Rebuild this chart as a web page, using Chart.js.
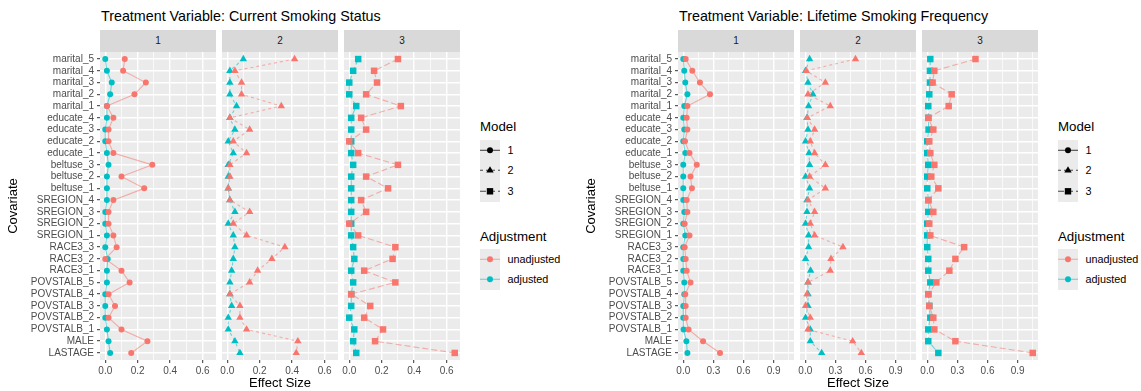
<!DOCTYPE html>
<html>
<head>
<meta charset="utf-8">
<script src="https://cdn.jsdelivr.net/npm/chart.js@4.4.0/dist/chart.umd.min.js"></script>
<style>
  body { margin: 0; width: 1141px; height: 391px; overflow: hidden; background: #fff; position: relative;
         font-family: "Liberation Sans", Arial, sans-serif; }
  canvas { position: absolute; }
  .abs { position: absolute; white-space: nowrap; line-height: 1; }
  .titulo { font-size: 14.3px; color: #000; }
  .faixa { background: #d9d9d9; color: #1a1a1a; font-size: 10px; display: flex; align-items: center; justify-content: center; }
  .leg-titulo { font-size: 13.3px; color: #000; }
  .leg-rotulo { font-size: 10.8px; color: #000; display: flex; align-items: center; }
  .chave { background: #ebebeb; }
</style>
</head>
<body>
<script>
// categorias (de cima para baixo)
const covariaveis = ['marital_5','marital_4','marital_3','marital_2','marital_1',
  'educate_4','educate_3','educate_2','educate_1','beltuse_3','beltuse_2','beltuse_1',
  'SREGION_4','SREGION_3','SREGION_2','SREGION_1','RACE3_3','RACE3_2','RACE3_1',
  'POVSTALB_5','POVSTALB_4','POVSTALB_3','POVSTALB_2','POVSTALB_1','MALE','LASTAGE'];
const modelos = ['1', '2', '3'];
const ajustes = ['unadjusted', 'adjusted'];
const ticksAtual = [0, 0.2, 0.4, 0.6];
const ticksVida = [0, 0.3, 0.6, 0.9];

// Current Smoking Status
const atualNaoAjust1 = [0.12,0.11,0.25,0.18,0.01,0.05,0.02,0.02,0.05,0.29,0.10,0.24,0.05,0.02,0.02,0.05,0.07,0.00,0.10,0.15,0.02,0.06,0.02,0.10,0.26,0.16];
const atualAjust1    = [0.00,0.01,0.04,0.03,0.01,0.01,0.00,0.00,0.01,0.02,0.01,0.01,0.01,0.00,0.00,0.01,0.00,0.015,0.01,0.01,0.00,0.00,0.00,0.01,0.02,0.03];
const atualNaoAjust2 = [0.415,0.047,0.088,0.088,0.333,0.016,0.138,0.037,0.119,0.016,0.016,0.006,0.016,0.138,0.037,0.119,0.355,0.275,0.187,0.138,0.016,0.078,0.078,0.119,0.435,0.425];
const atualAjust2    = [0.099,0.016,0.016,0.016,0.057,0.016,0.047,0.006,0.037,0.006,0.006,0.006,0.016,0.047,0.006,0.037,0.047,0.037,0.027,0.016,0.016,0.027,0.006,0.006,0.047,0.078];
const atualNaoAjust3 = [0.30,0.153,0.171,0.104,0.318,0.073,0.104,0.0,0.055,0.30,0.104,0.239,0.073,0.104,0.0,0.055,0.284,0.267,0.092,0.284,0.012,0.129,0.092,0.208,0.159,0.65];
const atualAjust3    = [0.055,0.024,0.0,0.0,0.043,0.012,0.012,0.012,0.012,0.024,0.012,0.012,0.012,0.012,0.012,0.012,0.024,0.031,0.012,0.024,0.012,0.012,0.0,0.031,0.024,0.043];

// Lifetime Smoking Frequency
const vidaNaoAjust1 = [0.024,0.09,0.166,0.266,0.041,0.034,0.041,0.017,0.062,0.134,0.072,0.086,0.034,0.041,0.014,0.062,0.014,0.024,0.034,0.072,0.02,0.024,0.024,0.052,0.197,0.366];
const vidaAjust1    = [0.0,0.01,0.02,0.041,0.01,0.0,0.01,0.0,0.02,0.0,0.0,0.0,0.0,0.01,0.0,0.02,0.0,0.0,0.0,0.01,0.01,0.0,0.0,0.003,0.031,0.041];
const vidaNaoAjust2 = [0.50,0.01,0.20,0.027,0.249,0.02,0.093,0.05,0.093,0.20,0.043,0.20,0.027,0.093,0.05,0.093,0.375,0.256,0.249,0.027,0.017,0.003,0.05,0.027,0.472,0.558];
const vidaAjust2    = [0.043,0.003,0.027,0.076,0.033,0.017,0.027,0.003,0.037,0.043,0.003,0.043,0.017,0.017,0.003,0.033,0.033,0.003,0.053,0.027,0.027,0.027,0.003,0.05,0.05,0.163];
const vidaNaoAjust3 = [0.48,0.07,0.053,0.243,0.213,0.01,0.06,0.02,0.03,0.07,0.04,0.11,0.01,0.06,0.02,0.03,0.367,0.28,0.22,0.09,0.01,0.02,0.06,0.07,0.28,1.05];
const vidaAjust3    = [0.03,0.027,0.027,0.02,0.01,0.01,0.013,0.0,0.0,0.01,0.0,0.0,0.01,0.01,0.0,0.0,0.0,0.01,0.01,0.03,0.01,0.02,0.03,0.01,0.01,0.11];

const cores = ['#F8766D', '#00BFC4'];
const coresLinha = ['rgba(248,118,109,0.55)', 'rgba(0,191,196,0.55)'];
const estilos = [
  {ponto: 'circle', raio: 3, traco: []},
  {ponto: 'triangle', raio: 4.3, traco: [3, 3]},
  {ponto: 'rect', raio: 4.6, traco: [6, 3]},
];

Chart.defaults.font.family = '"Liberation Sans", Arial, sans-serif';

// fundo cinza do painel
const fundoPainel = {
  id: 'fundoPainel',
  beforeDraw(chart) {
    const {ctx, chartArea: a} = chart;
    ctx.save();
    ctx.fillStyle = '#ebebeb';
    ctx.fillRect(a.left, a.top, a.width, a.height);
    ctx.restore();
  }
};

const graficos = [
  {titulo: 'Treatment Variable: Current Smoking Status', esquerda: 100, min: -0.0325, max: 0.6825, passo: 0.1,
   ticks: ticksAtual, series: [[atualNaoAjust1, atualAjust1], [atualNaoAjust2, atualAjust2], [atualNaoAjust3, atualAjust3]]},
  {titulo: 'Treatment Variable: Lifetime Smoking Frequency', esquerda: 678, min: -0.0525, max: 1.1025, passo: 0.15,
   ticks: ticksVida, series: [[vidaNaoAjust1, vidaAjust1], [vidaNaoAjust2, vidaAjust2], [vidaNaoAjust3, vidaAjust3]]},
];

function adicionarDiv(classe, texto, estilo) {
  const d = document.createElement('div');
  d.className = 'abs ' + classe;
  d.textContent = texto;
  Object.assign(d.style, estilo);
  document.body.appendChild(d);
  return d;
}

function criarPainel(g, k) {
  // margem à esquerda para o rótulo "0.0" não ser cortado
  const larguraEixo = k === 0 ? 100 : 6;
  const x0 = g.esquerda + k * 122;
  const ehMaior = v => g.ticks.includes(Math.round(v * 100) / 100);

  adicionarDiv('faixa', modelos[k], {left: x0 + 'px', top: '30px', width: '116px', height: '22px'});

  const canvas = document.createElement('canvas');
  canvas.width = 116 + larguraEixo;
  canvas.height = 339;
  canvas.style.left = (x0 - larguraEixo) + 'px';
  canvas.style.top = '52px';
  document.body.appendChild(canvas);

  const e = estilos[k];
  const datasets = g.series[k].map((valores, j) => ({
    label: ajustes[j],
    data: valores.map((v, i) => ({x: v, y: i})),
    showLine: true,
    borderColor: coresLinha[j],
    borderWidth: 1.1,
    borderDash: e.traco,
    pointStyle: e.ponto,
    pointRadius: e.raio,
    pointBackgroundColor: cores[j],
    pointBorderWidth: 0,
  }));

  return new Chart(canvas, {
    type: 'scatter',
    data: {datasets: datasets},
    plugins: [fundoPainel],
    options: {
      responsive: false,
      animation: false,
      events: [],
      layout: {padding: 0, autoPadding: false},
      plugins: {legend: {display: false}, tooltip: {enabled: false}},
      scales: {
        x: {
          type: 'linear', min: g.min, max: g.max,
          border: {display: false},
          grid: {
            color: '#fff',
            lineWidth: c => (c.tick && ehMaior(c.tick.value)) ? 1.4 : 0.7,
            tickLength: 3, tickWidth: 1,
            tickColor: c => (c.tick && ehMaior(c.tick.value)) ? '#333' : 'rgba(0,0,0,0)',
          },
          ticks: {
            stepSize: g.passo, includeBounds: false, autoSkip: false, maxRotation: 0, padding: 2,
            color: '#4d4d4d', font: {size: 10},
            callback: v => ehMaior(v) ? v.toFixed(1) : '',
          },
          title: {display: k === 1, text: 'Effect Size', color: '#000', font: {size: 13}, padding: {top: 0, bottom: 0}},
          afterFit: s => { s.height = 31; s.paddingLeft = 0; s.paddingRight = 0; },
        },
        y: {
          type: 'linear', min: -0.6, max: 25.6, reverse: true,
          border: {display: false},
          grid: {color: '#fff', lineWidth: 1.4, drawTicks: k === 0, tickLength: 3, tickWidth: 1, tickColor: '#333'},
          ticks: {
            display: k === 0, stepSize: 1, includeBounds: false, autoSkip: false, padding: 3,
            color: '#4d4d4d', font: {size: 10},
            callback: v => covariaveis[v],
          },
          title: {display: k === 0, text: 'Covariate', color: '#000', font: {size: 13}, padding: {top: 6, bottom: 0}},
          afterFit: s => { s.width = larguraEixo; s.paddingTop = 0; s.paddingBottom = 0; },
        },
      },
    },
  });
}

// chave da legenda (svg pequeno)
function chave(corLinha, corPonto, traco, forma) {
  let marca = '<circle cx="10" cy="10.3" r="3" fill="' + corPonto + '"/>';
  if (forma === 'triangle') marca = '<polygon points="10,6.2 13.7,12.6 6.3,12.6" fill="' + corPonto + '"/>';
  if (forma === 'rect') marca = '<rect x="6.8" y="7.1" width="6.4" height="6.4" fill="' + corPonto + '"/>';
  return '<svg width="20" height="20.7" style="display:block"><line x1="0" y1="10.3" x2="20" y2="10.3" stroke="' + corLinha +
    '" stroke-width="1.1" stroke-dasharray="' + (traco.length ? traco.join(',') : 'none') + '"/>' + marca + '</svg>';
}

function criarLegenda(g) {
  const lx = g.esquerda + 380;
  adicionarDiv('leg-titulo', 'Model', {left: lx + 'px', top: '120px'});
  modelos.forEach((m, k) => {
    const top = 139.6 + k * 20.7;
    const c = adicionarDiv('chave', '', {left: lx + 'px', top: top + 'px', width: '20px', height: '20.7px'});
    c.innerHTML = chave('rgba(0,0,0,0.7)', '#000', estilos[k].traco, estilos[k].ponto);
    adicionarDiv('leg-rotulo', m, {left: (lx + 27.5) + 'px', top: top + 'px', height: '20.7px'});
  });
  adicionarDiv('leg-titulo', 'Adjustment', {left: lx + 'px', top: '230px'});
  ajustes.forEach((a, j) => {
    const top = 248.6 + j * 20.7;
    const c = adicionarDiv('chave', '', {left: lx + 'px', top: top + 'px', width: '20px', height: '20.7px'});
    c.innerHTML = chave(coresLinha[j], cores[j], [], 'circle');
    adicionarDiv('leg-rotulo', a, {left: (lx + 27.5) + 'px', top: top + 'px', height: '20.7px'});
  });
}

// INICIALIZAR
graficos.forEach(g => {
  adicionarDiv('titulo', g.titulo, {left: (g.esquerda + 1) + 'px', top: '8.6px'});
  modelos.forEach((m, k) => criarPainel(g, k));
  criarLegenda(g);
});
</script>
</body>
</html>
